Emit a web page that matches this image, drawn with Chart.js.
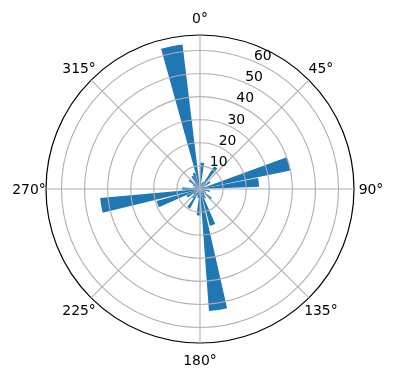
<!DOCTYPE html>
<html>
<head>
<meta charset="utf-8">
<script src="https://cdn.jsdelivr.net/npm/chart.js@4.4.0/dist/chart.umd.min.js"></script>
<style>
  body { margin: 0; background: #fff; }
  #wrap { width: 396px; height: 380px; }
</style>
</head>
<body>
<div id="wrap"><canvas id="roseChart" width="396" height="380"></canvas></div>
<script>
// Bar directions (degrees, clockwise from north) and bar lengths
const directions = [5, 15, 25.5, 36, 46, 55.5, 65, 74.2, 83.5, 93, 102.5, 112, 121.5, 131, 140.5, 150,
  160.8, 171.5, 183, 192.5, 202, 211, 220.5, 230, 240, 250.4, 260.6, 271, 281, 291, 300.5, 310,
  319.5, 329, 338.5, 348.8];
const counts = [11.4, 2.5, 3.5, 11.6, 3, 5.3, 2, 40, 25.6, 2, 4.4, 2.5, 3, 6.5, 3, 4.5,
  16.5, 53, 11.5, 4, 3, 9.5, 5, 3.5, 6.5, 19.5, 43.4, 7.7, 3, 2, 3.5, 6,
  3, 6.5, 7.4, 63];
const angleLabels = ["0°", "45°", "90°", "135°", "180°", "225°", "270°", "315°"];
const radialTicks = [10, 20, 30, 40, 50, 60];
const radialMax = 66.7;

const barWidth = 8.6; // largeur d'une barre en degrés

// Build the wedge list: empty spacer wedges between the bars
const wedgeValues = [];
const wedgeAngles = [];
let cursor = 0;
directions.forEach((dir, i) => {
  const start = dir - barWidth / 2;
  if (start - cursor > 0.001) {
    wedgeValues.push(0);
    wedgeAngles.push(start - cursor);
  }
  wedgeValues.push(counts[i]);
  wedgeAngles.push(barWidth);
  cursor = start + barWidth;
});

// Tick and direction labels, placed like matplotlib
const polarLabels = {
  id: "polarLabels",
  afterDraw(chart) {
    const scale = chart.scales.r;
    const ctx = chart.ctx;
    ctx.save();
    ctx.fillStyle = "#000";
    ctx.font = '13.9px "DejaVu Sans"';

    ctx.textAlign = "center";
    angleLabels.forEach((label, i) => {
      const a = scale.getIndexAngle(i) - Math.PI / 2;
      const d = scale.drawingArea + 17;
      ctx.fillText(label, scale.xCenter + d * Math.cos(a), scale.yCenter + d * Math.sin(a) + 5);
    });

    ctx.textAlign = "left";
    const a = (22.5 * Math.PI) / 180 - Math.PI / 2;
    radialTicks.forEach((v) => {
      const d = scale.getDistanceFromCenterForValue(v);
      ctx.fillText(String(v), scale.xCenter + d * Math.cos(a) + 1, scale.yCenter + d * Math.sin(a) - 1.5);
    });
    ctx.restore();
  },
};

const ctx = document.getElementById("roseChart").getContext("2d");
new Chart(ctx, {
  type: "polarArea",
  data: {
    labels: angleLabels,
    datasets: [
      {
        data: wedgeValues,
        angle: (c) => wedgeAngles[c.dataIndex],
        backgroundColor: "#1f77b4",
        borderWidth: 0,
      },
    ],
  },
  options: {
    responsive: false,
    animation: false,
    layout: { padding: { left: 46, top: 35, right: 42, bottom: 37 } },
    plugins: {
      legend: { display: false },
      tooltip: { enabled: false },
    },
    scales: {
      r: {
        min: 0,
        max: radialMax,
        startAngle: 0,
        afterBuildTicks: (scale) => {
          scale.ticks = [0, ...radialTicks, radialMax].map((v) => ({ value: v }));
        },
        ticks: { display: false },
        grid: {
          circular: true,
          z: 1,
          color: (c) => (c.tick && c.tick.value === radialMax ? "#000" : "#b0b0b0"),
          lineWidth: (c) => (c.tick && c.tick.value === radialMax ? 1.2 : 1.1),
        },
        angleLines: { display: true, color: "#b0b0b0", lineWidth: 1.1 },
        pointLabels: { display: false },
      },
    },
  },
  plugins: [polarLabels],
});
</script>
</body>
</html>
